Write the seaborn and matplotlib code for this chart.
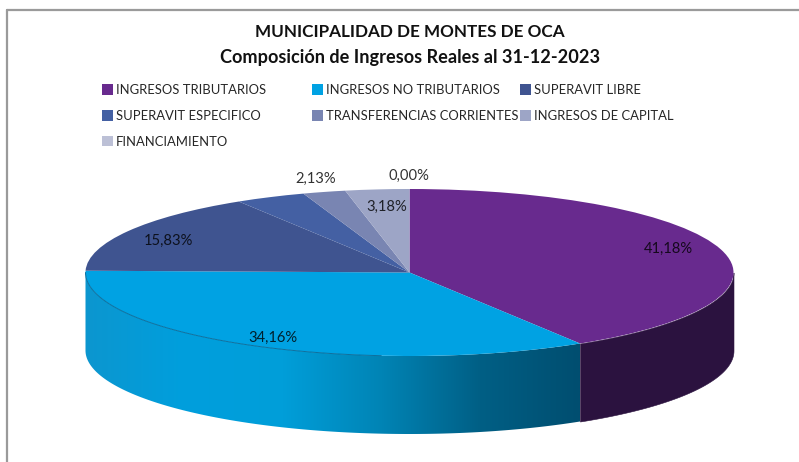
import numpy as np
import matplotlib
matplotlib.use('Agg')
import matplotlib.pyplot as plt
from matplotlib.lines import Line2D
import seaborn as sns

# ============================================================
# Data
# ============================================================
CATEGORIES = ['INGRESOS TRIBUTARIOS', 'INGRESOS NO TRIBUTARIOS', 'SUPERAVIT LIBRE',
              'SUPERAVIT ESPECIFICO', 'TRANSFERENCIAS CORRIENTES', 'INGRESOS DE CAPITAL',
              'FINANCIAMIENTO']
VALUES = [41.18, 34.16, 15.83, 3.52, 2.13, 3.18, 0.00]
COLORS = ['#682A8E', '#00A2E3', '#3F5490', '#4460A3', '#7985B2', '#9DA5C6', '#BCC0D6']
LABEL_POS = [(668, 248.5), (273, 337.5), (168, 240.5), None, (316, 178.5), (387, 206.5), (409, 175.5)]
TITLE = ['MUNICIPALIDAD DE MONTES DE OCA', 'Composición de Ingresos Reales al 31-12-2023']

# Geometry in pixels of the final image
W, H = 799, 462
CX, CY, RX, RY = 409.5, 272.5, 324, 83.5
DEPTH = 78

sns.set_theme(style='white')
plt.rcParams['font.family'] = ['Lato', 'DejaVu Sans']

fig = plt.figure(figsize=(W / 100, H / 100), dpi=100)
ax = fig.add_axes([0, 0, 1, 1])

# ============================================================
# Side wall, from the same angles as the pie
# ============================================================
ends = 90 - np.cumsum(VALUES) * 3.6
depth = DEPTH / RY

# blue part fades to dark on the right, purple part stays flat
t = np.radians(np.linspace(-180, ends[0], 200))
wall = ax.fill_between(np.cos(t), np.sin(t), np.sin(t) - depth, color='none', lw=0)
shades = sns.blend_palette(['#0C96CF', '#009FDD', '#009ED9', '#0084B5', '#005F85', '#004E70'], 256)
img = ax.imshow(np.array(shades)[None, :, :], extent=(-1, np.cos(t[-1]), -1 - depth, 1),
                aspect='auto', interpolation='bilinear', zorder=1)
img.set_clip_path(wall.get_paths()[0], transform=ax.transData)

t = np.radians(np.linspace(ends[0], 0, 60))
ax.fill_between(np.cos(t), np.sin(t), np.sin(t) - depth, color='#2B123F', lw=0.4, zorder=1)

# ============================================================
# Top face
# ============================================================
wedges, _ = ax.pie(VALUES, colors=COLORS, startangle=90, counterclock=False, radius=1,
                   wedgeprops={'linewidth': 0, 'zorder': 2})

# pie forces an equal aspect, the tilted look needs it stretched
ax.set_aspect('auto')
ax.set_xlim(-CX / RX, (W - CX) / RX)
ax.set_ylim((CY - H) / RY, CY / RY)

t = np.radians(np.linspace(-180, -95, 60))
ax.plot(np.cos(t), np.sin(t), color='#0B6F9E', lw=0.7, zorder=3)

# ============================================================
# Texts
# ============================================================
def px(x, y):
    return x / W, 1 - y / H

# chart frame, only top and left fall inside the image
for xs, ys in [((7, W), (10, 10)), ((7, 7), (10, H))]:
    fig.add_artist(Line2D([x / W for x in xs], [1 - y / H for y in ys], transform=fig.transFigure,
                          color='#9A9A9A', lw=1.6))

for txt, y, size in zip(TITLE, [32, 57], [12.3, 13.1]):
    fig.text(*px(410, y), txt, ha='center', va='center', fontsize=size, fontweight='bold', color='#111111')

for val, pos in zip(VALUES, LABEL_POS):
    if pos is None:
        continue
    fig.text(*px(*pos), f'{val:.2f}%'.replace('.', ','), ha='center', va='center',
             fontsize=10.6, color='black', alpha=0.8, zorder=5)

# Excel lays the legend on an uneven grid, so one legend per column
columns = [([0, 3, 6], 102), ([1, 4], 312), ([2, 5], 520)]
for idx, x in columns:
    leg = fig.legend([wedges[i] for i in idx], [CATEGORIES[i] for i in idx],
                     loc='upper left', bbox_to_anchor=px(x, 84), bbox_transform=fig.transFigure,
                     frameon=False, fontsize=9.4, ncols=1, borderpad=0, borderaxespad=0,
                     handlelength=0.85, handleheight=0.85, handletextpad=0.2, labelspacing=1.06,
                     labelcolor='#262626')

fig.savefig('out.png', dpi=100)
